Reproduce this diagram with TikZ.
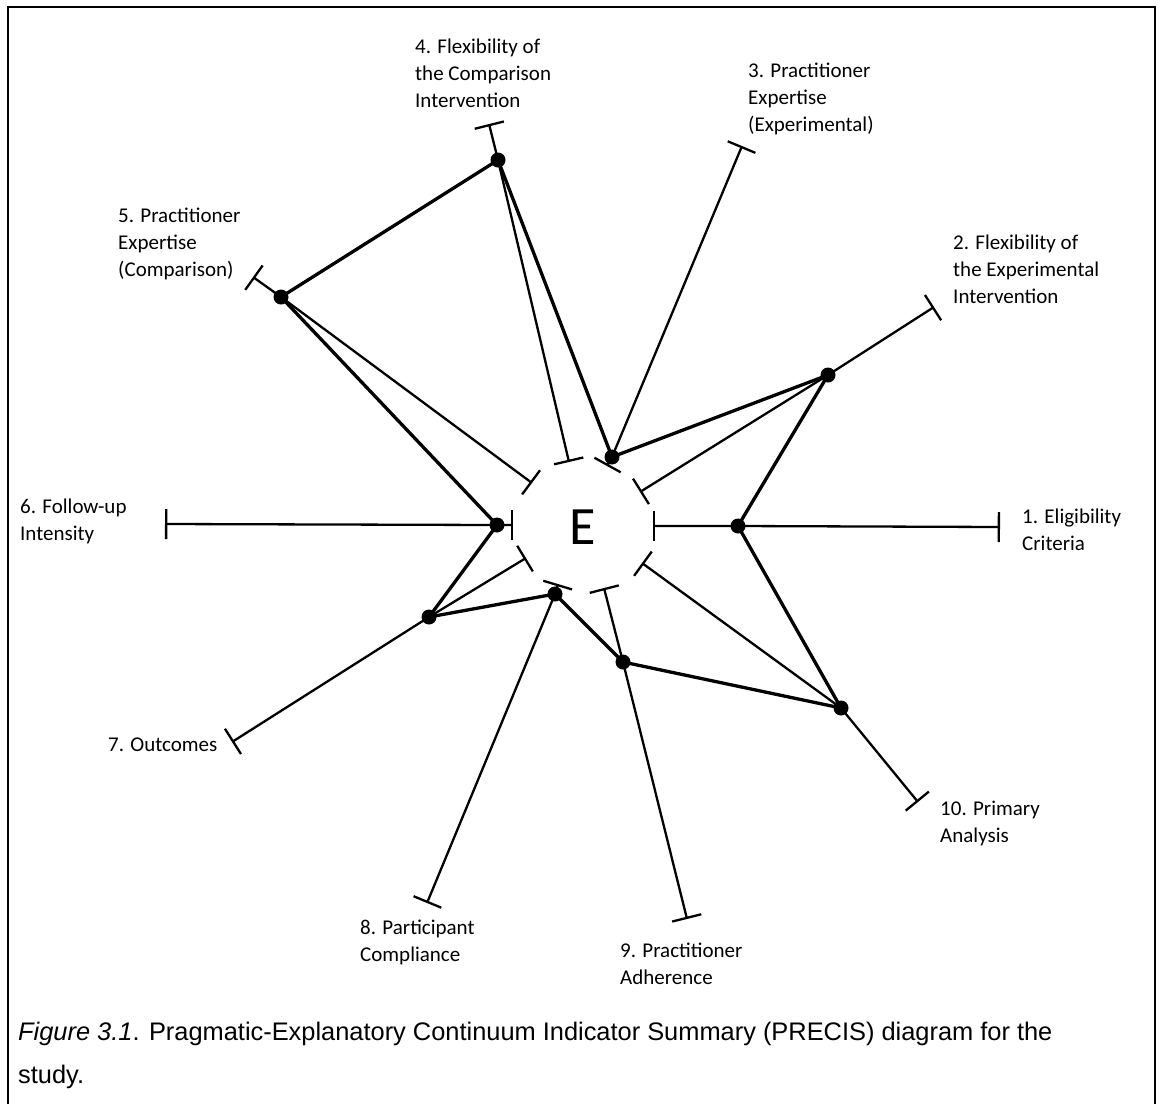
\documentclass[tikz,border=0pt]{standalone}
\usepackage{fontspec}
\setmainfont{Carlito}
\newfontfamily\capfont{Liberation Sans}
\usetikzlibrary{arrows.meta}
\begin{document}
\begin{tikzpicture}[x=1pt,y=-1pt,
  spoke/.style={line width=2.3pt,{Bar[width=30pt]}-{Bar[width=30pt]}},
  poly/.style={line width=3.3pt,line join=round},
  dot/.style={circle,fill=black,inner sep=0pt,minimum size=15pt},
  lab/.style={anchor=north west,inner sep=0pt,align=left,font=\fontsize{21}{27}\selectfont},
  frame/.style={line width=2.7pt}]
\useasboundingbox (0,0) rectangle (1163,1104);
\draw[frame] (8,1104) -- (8,7) -- (1155,7) -- (1155,1104);
% center
\node[inner sep=0pt,font=\fontsize{54}{54}\selectfont] (E) at (583,527) {E};
% inner and outer ends of spokes
\coordinate (i1) at (653,526);  \coordinate (o1) at (1000,527);
\coordinate (i2) at (640,492);  \coordinate (o2) at (934,307);
\coordinate (i3) at (607,466);  \coordinate (o3) at (742,146);
\coordinate (i4) at (569,462);  \coordinate (o4) at (489,124);
\coordinate (i5) at (532,483);  \coordinate (o5) at (253,277);
\coordinate (i6) at (513,525);  \coordinate (o6) at (165,524);
\coordinate (i7) at (526,558);  \coordinate (o7) at (232,742);
\coordinate (i8) at (558,584);  \coordinate (o8) at (427,903);
\coordinate (i9) at (604,588);  \coordinate (o9) at (687,919);
\coordinate (i10) at (642,563); \coordinate (o10) at (918,802);
% scores
\node[dot] (d1) at (738,526) {};
\node[dot] (d2) at (828,375) {};
\node[dot] (d3) at (612,457) {};
\node[dot] (d4) at (498,160) {};
\node[dot] (d5) at (281,297) {};
\node[dot] (d6) at (497,525) {};
\node[dot] (d7) at (429,617) {};
\node[dot] (d8) at (555,594) {};
\node[dot] (d9) at (623,662) {};
\node[dot] (d10) at (841,708) {};
% spokes
\foreach \k in {1,...,10} {
  \draw[spoke] (i\k) -- (d\k.center) -- (o\k);
}
% polygon
\draw[poly] (d1.center) -- (d2.center) -- (d3.center) -- (d4.center) -- (d5.center)
  -- (d6.center) -- (d7.center) -- (d8.center) -- (d9.center) -- (d10.center) -- cycle;
% labels
\node[lab] (l1) at (1022,509) {1. Eligibility\\Criteria};
\node[lab] (l2) at (953,235) {2. Flexibility of\\the Experimental\\Intervention};
\node[lab] (l3) at (748,63) {3. Practitioner\\Expertise\\(Experimental)};
\node[lab] (l4) at (415,39) {4. Flexibility of\\the Comparison\\Intervention};
\node[lab] (l5) at (118,208) {5. Practitioner\\Expertise\\(Comparison)};
\node[lab] (l6) at (20,499) {6. Follow-up\\Intensity};
\node[lab] (l7) at (108,738) {7. Outcomes};
\node[lab] (l8) at (360,920) {8. Participant\\Compliance};
\node[lab] (l9) at (620,943) {9. Practitioner\\Adherence};
\node[lab] (l10) at (940,801) {10. Primary\\Analysis};
% caption
\node[anchor=base west,inner sep=0pt,font=\capfont\fontsize{25.4}{43}\selectfont] (cap1) at (18,1040)
  {\textit{Figure 3.1}. Pragmatic-Explanatory Continuum Indicator Summary (PRECIS) diagram for the};
\node[anchor=base west,inner sep=0pt,font=\capfont\fontsize{25.4}{43}\selectfont] (cap2) at (18,1083)
  {study.};
\end{tikzpicture}
\end{document}
